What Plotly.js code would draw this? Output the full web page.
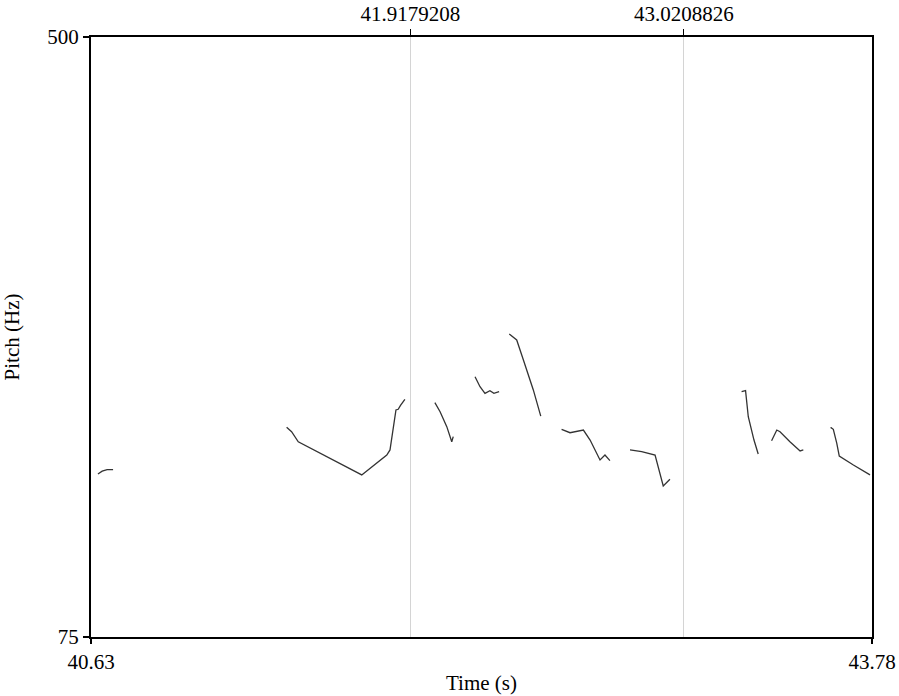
<!DOCTYPE html>
<html>
<head>
<meta charset="utf-8">
<script src="https://cdn.plot.ly/plotly-3.0.1.min.js"></script>
<style>html,body{margin:0;padding:0;background:#fff;}#chart{width:899px;height:696px;}</style>
</head>
<body>
<div id="chart"></div>
<script>
// Pitch contour segments (time in s, pitch in Hz)
const t1 = [40.658, 40.675, 40.695, 40.719];
const p1 = [190.5, 192.5, 193.6, 193.6];
const t2 = [41.419, 41.439, 41.466, 41.722, 41.823, 41.836, 41.860, 41.869, 41.879, 41.896];
const p2 = [223.5, 220.4, 213.3, 189.8, 203.9, 207.5, 235.8, 236.3, 239.3, 243.4];
const t3 = [42.017, 42.038, 42.065, 42.085, 42.091];
const p3 = [241.0, 234.6, 224.0, 213.3, 216.9];
const t4 = [42.179, 42.199, 42.219, 42.239, 42.255, 42.276];
const p4 = [259.4, 252.3, 247.6, 249.5, 247.6, 248.8];
const t5 = [42.317, 42.347, 42.374, 42.414, 42.444];
const p5 = [289.6, 285.4, 271.2, 250.0, 231.5];
const t6 = [42.528, 42.562, 42.616, 42.643, 42.683, 42.703, 42.723];
const p6 = [222.1, 219.7, 221.6, 214.5, 200.4, 203.9, 199.9];
const t7 = [42.804, 42.851, 42.905, 42.918, 42.938, 42.965];
const p7 = [207.5, 206.3, 203.9, 195.6, 182.0, 186.7];
const t8 = [43.254, 43.270, 43.281, 43.304, 43.321];
const p8 = [248.8, 249.5, 231.0, 214.5, 204.6];
const t9 = [43.375, 43.396, 43.409, 43.449, 43.490, 43.503];
const p9 = [214.0, 221.6, 220.4, 213.3, 206.8, 207.5];
const t10 = [43.613, 43.624, 43.638, 43.648, 43.705, 43.772];
const p10 = [223.5, 222.1, 212.2, 203.2, 196.8, 189.8];

const timeRange = [40.63, 43.78];
const pitchRange = [75, 500];
const bottomTicks = [40.63, 43.78];
const bottomTickText = ["40.63", "43.78"];
const markTimes = [41.9179208, 43.0208826];
const markText = ["41.9179208", "43.0208826"];
const pitchTicks = [75, 500];
const pitchTickText = ["75", "500"];

const segT = [t1, t2, t3, t4, t5, t6, t7, t8, t9, t10];
const segP = [p1, p2, p3, p4, p5, p6, p7, p8, p9, p10];

const font = {family: "Liberation Serif, Times New Roman, serif", size: 21, color: "#000"};

const traces = segT.map((t, i) => ({
  x: t, y: segP[i], type: "scatter", mode: "lines",
  line: {color: "#333", width: 1.3, shape: "linear"},
  hoverinfo: "skip", showlegend: false
}));
// dummy trace for top axis
traces.push({x: timeRange, y: [null, null], xaxis: "x2", yaxis: "y", type: "scatter", mode: "lines", showlegend: false, hoverinfo: "skip"});

const layout = {
  width: 899, height: 696,
  margin: {l: 91, r: 27, t: 37, b: 59},
  paper_bgcolor: "#fff", plot_bgcolor: "#fff",
  font: font,
  showlegend: false,
  xaxis: {
    range: timeRange, showgrid: false, zeroline: false,
    showline: true, linecolor: "#000", linewidth: 2, mirror: false,
    tickmode: "array", tickvals: bottomTicks, ticktext: bottomTickText,
    ticks: "outside", ticklen: 5, tickcolor: "#000", tickwidth: 1.2,
    tickfont: font,
    title: {text: "Time (s)", font: font, standoff: 2}
  },
  xaxis2: {
    range: timeRange, overlaying: "x", side: "top", anchor: "y",
    showline: true, linecolor: "#000", linewidth: 2,
    tickmode: "array", tickvals: markTimes, ticktext: markText,
    ticks: "outside", ticklen: 6, tickcolor: "#000", tickwidth: 1.2,
    showgrid: true, gridcolor: "#d4d4d4", gridwidth: 1,
    zeroline: false, tickfont: font
  },
  yaxis: {
    range: pitchRange, showgrid: false, zeroline: false,
    showline: true, linecolor: "#000", linewidth: 2, mirror: true,
    tickmode: "array", tickvals: pitchTicks, ticktext: pitchTickText,
    ticks: "outside", ticklen: 6, tickcolor: "#000", tickwidth: 1.2,
    tickfont: font,
    title: {text: "Pitch (Hz)", font: font, standoff: 22}
  }
};

Plotly.newPlot("chart", traces, layout, {staticPlot: true, displayModeBar: false});
</script>
</body>
</html>
